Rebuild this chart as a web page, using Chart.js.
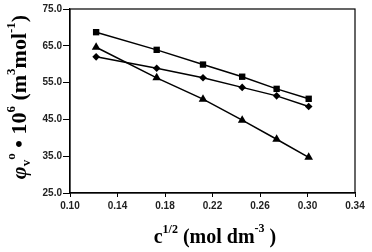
<!DOCTYPE html>
<html><head><meta charset="utf-8">
<script src="https://cdn.jsdelivr.net/npm/chart.js@4/dist/chart.umd.min.js"></script>
<style>html,body{margin:0;padding:0;background:#fff}#w{width:372px;height:252px}</style>
</head><body><div id="w"><canvas id="c"></canvas></div>
<script>
const xValues = [0.122, 0.173, 0.212, 0.245, 0.274, 0.301];
const squareSeries = [68.7, 63.9, 59.9, 56.6, 53.3, 50.6];
const diamondSeries = [62.0, 58.9, 56.3, 53.7, 51.4, 48.5];
const triangleSeries = [64.6, 56.3, 50.5, 44.8, 39.6, 34.7];
const xTicks = [0.10, 0.14, 0.18, 0.22, 0.26, 0.30, 0.34];
const yTicks = [25, 35, 45, 55, 65, 75];

function pts(ys){ return xValues.map((x,i)=>({x, y: ys[i]})); }
function ds(ys, style, r){
  return {data: pts(ys), showLine:true, borderColor:'#000', backgroundColor:'#000', borderWidth:1.5,
    pointStyle: style, pointRadius: r, pointBackgroundColor:'#000', pointBorderColor:'#000', pointBorderWidth:0};
}

function drawRich(ctx, parts, x, y, align){
  const w = parts.map(p=>{ctx.font = (p[3]?'italic ':'')+'bold '+p[1]+'px "Liberation Serif", serif'; return ctx.measureText(p[0]).width;});
  const total = w.reduce((a,b)=>a+b,0);
  let cx = align==='center' ? x - total/2 : x;
  parts.forEach((p,i)=>{
    ctx.font = (p[3]?'italic ':'')+'bold '+p[1]+'px "Liberation Serif", serif';
    ctx.fillText(p[0], cx, y + p[2]);
    cx += w[i];
  });
}

const titles = {
  id:'titles',
  afterDraw(chart){
    const ctx = chart.ctx, a = chart.chartArea;
    ctx.save();
    ctx.strokeStyle = '#000'; ctx.lineWidth = 1.2;
    ctx.strokeRect(a.left, a.top, a.right-a.left, a.bottom-a.top);
    ctx.fillStyle = '#000'; ctx.textBaseline = 'alphabetic';
    drawRich(ctx, [['c',20,0],['1/2',12,-10],[' (mol dm',20,0],['-3',12,-11],[' )',20,0]], 215, 243, 'center');
    ctx.translate(26, 97);
    ctx.rotate(-Math.PI/2);
    drawRich(ctx, [['\u03c6',22,0,true],['v',13,4],['o',13,-11],[' \u2022 10',22,0],['6',13,-11],[' (m',22,0],['3',13,-11],['mol',22,0],['-1',13,-11],[')',22,0]], 0, 0, 'center');
    ctx.restore();
  }
};

new Chart(document.getElementById('c'), {
  type:'scatter',
  data:{datasets:[ds(squareSeries,'rect',4.5), ds(diamondSeries,'rectRot',3.8), ds(triangleSeries,'triangle',5)]},
  options:{
    responsive:true, maintainAspectRatio:false, animation:false,
    layout:{padding:{top:9,right:17,left:0,bottom:0}},
    plugins:{legend:{display:false}, tooltip:{enabled:false}},
    scales:{
      x:{type:'linear', min:0.10, max:0.34,
        afterBuildTicks(s){ s.ticks = xTicks.map(v=>({value:v})); },
        afterFit(s){ s.height = 59; },
        grid:{drawOnChartArea:false, drawTicks:true, tickLength:4, color:'#000'},
        border:{display:true, color:'#000', width:1.2},
        ticks:{color:'#222', padding:3, font:{family:'"Liberation Sans", Arial', size:10, weight:'bold'},
          callback:v=>v.toFixed(2), maxRotation:0, autoSkip:false}
      },
      y:{type:'linear', min:25, max:75,
        afterBuildTicks(s){ s.ticks = yTicks.map(v=>({value:v})); },
        afterFit(s){ s.width = 70; },
        grid:{drawOnChartArea:false, drawTicks:true, tickLength:7, color:'#000'},
        border:{display:true, color:'#000', width:1.2},
        ticks:{color:'#222', padding:1, font:{family:'"Liberation Sans", Arial', size:10, weight:'bold'},
          callback:v=>v.toFixed(1), autoSkip:false}
      }
    }
  },
  plugins:[titles]
});
</script></body></html>
